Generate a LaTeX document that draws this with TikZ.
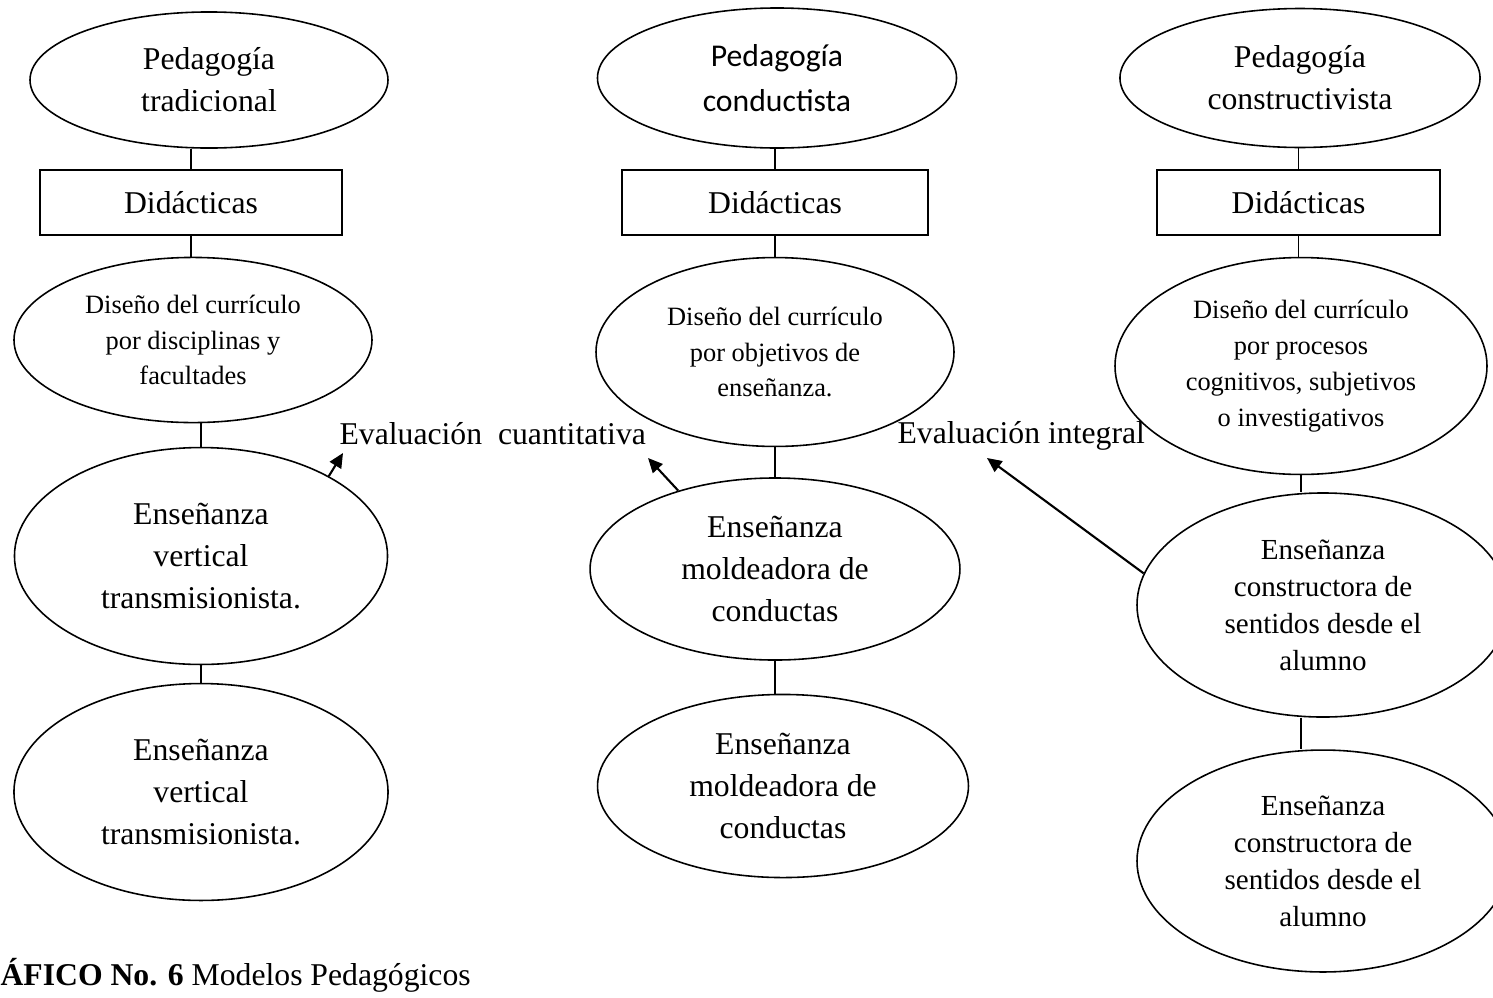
\documentclass[tikz,border=0pt]{standalone}
\usepackage{fontspec}
\setmainfont{Liberation Serif}
\newfontfamily\calibri{Carlito}
\usetikzlibrary{arrows.meta,shapes.geometric}

\begin{document}
\begin{tikzpicture}[x=0.3785pt, y=-0.3785pt,
  elli/.style={ellipse, draw, line width=0.6pt, inner sep=0pt, align=center},
  caja/.style={rectangle, draw, line width=0.6pt, inner sep=0pt, minimum height=24.6pt},
  grande/.style={font=\fontsize{12}{15.9}\selectfont},
  medio/.style={font=\fontsize{11}{14}\selectfont},
  chico/.style={font=\fontsize{10}{13.6}\selectfont},
  linea/.style={line width=0.6pt},
  flecha/.style={-{Triangle[length=5.5pt,width=5pt]}, line width=0.8pt}]

  \useasboundingbox (0,0) rectangle (1493,997);

  % Define nodes, left column
  \node[elli, grande, minimum width=135.5pt, minimum height=51.5pt] (tradA) at (209, 80) {Pedagogía\\tradicional};
  \node[caja, grande, minimum width=114.3pt] (didA) at (191, 202.5) {Didácticas};
  \node[elli, chico, minimum width=135.5pt, minimum height=62.5pt] (disA) at (193, 340) {Diseño del currículo\\por disciplinas y\\facultades};
  \node[elli, grande, minimum width=141.2pt, minimum height=82.1pt] (ensA1) at (201, 556) {Enseñanza\\vertical\\transmisionista.};
  \node[elli, grande, minimum width=141.6pt, minimum height=82.1pt] (ensA2) at (201, 792) {Enseñanza\\vertical\\transmisionista.};

  % middle column
  \node[elli, font=\calibri\fontsize{12}{17}\selectfont, minimum width=135.9pt, minimum height=53pt] (tradB) at (777, 78) {Pedagogía\\conductista};
  \node[caja, grande, minimum width=115.8pt] (didB) at (775, 202.5) {Didácticas};
  \node[elli, chico, minimum width=135.5pt, minimum height=71.5pt] (disB) at (775, 352) {Diseño del currículo\\por objetivos de\\enseñanza.};
  \node[elli, grande, minimum width=140pt, minimum height=68.9pt] (ensB1) at (775, 569) {Enseñanza\\moldeadora de\\conductas};
  \node[elli, grande, minimum width=140.4pt, minimum height=69.3pt] (ensB2) at (783, 786) {Enseñanza\\moldeadora de\\conductas};

  % right column
  \node[elli, grande, minimum width=136.3pt, minimum height=52.6pt] (tradC) at (1300, 78) {Pedagogía\\constructivista};
  \node[caja, grande, minimum width=107.1pt] (didC) at (1298.5, 202.5) {Didácticas};
  \node[elli, chico, minimum width=140.8pt, minimum height=82.1pt] (disC) at (1301, 366) {Diseño del currículo\\por procesos\\cognitivos, subjetivos\\o investigativos};
  \node[elli, medio, minimum width=140.8pt, minimum height=84.8pt] (ensC1) at (1323, 605) {Enseñanza\\constructora de\\sentidos desde el\\alumno};
  \node[elli, medio, minimum width=140.8pt, minimum height=84pt] (ensC2) at (1323, 861) {Enseñanza\\constructora de\\sentidos desde el\\alumno};

  % labels
  \node[grande, anchor=base west, inner sep=0pt] (evalA) at (339, 444) {Evaluación\ \ cuantitativa};
  \node[grande, anchor=base west, inner sep=0pt] (evalC) at (897, 443) {Evaluación integral};
  \node[grande, anchor=base west, inner sep=0pt] (cap) at (0, 985) {\textbf{ÁFICO No. 6} Modelos Pedagógicos};

  \coordinate (pA) at (343, 453);
  \coordinate (pB) at (648, 458);
  \coordinate (pC) at (987, 458);

  % Draw lines between nodes
  \draw[linea] (didA.north) -- (didA.north |- tradA.south);
  \draw[linea] (didA.south) -- (didA.south |- disA.north);
  \draw[linea] (ensA1.north) -- (ensA1.north |- disA.south);
  \draw[linea] (ensA2.north) -- (ensA2.north |- ensA1.south);

  \draw[linea] (didB.north) -- (didB.north |- tradB.south);
  \draw[linea] (didB.south) -- (didB.south |- disB.north);
  \draw[linea] (disB.south) -- (disB.south |- ensB1.north);
  \draw[linea] (ensB1.south) -- (ensB1.south |- ensB2.north);

  \draw[linea] (didC.north) -- (didC.north |- tradC.south);
  \draw[linea] (didC.south) -- (didC.south |- disC.north);
  \draw[linea] (disC.south) -- (disC.south |- ensC1.north);
  \draw[linea] (ensC1.south -| disC.south) -- (ensC2.north -| disC.south);

  % arrows to the labels
  \draw[flecha] (ensA1.32) -- (pA);
  \draw[flecha] (ensB1.141) -- (pB);
  \draw[flecha] (ensC1.170) -- (pC);
\end{tikzpicture}
\end{document}
